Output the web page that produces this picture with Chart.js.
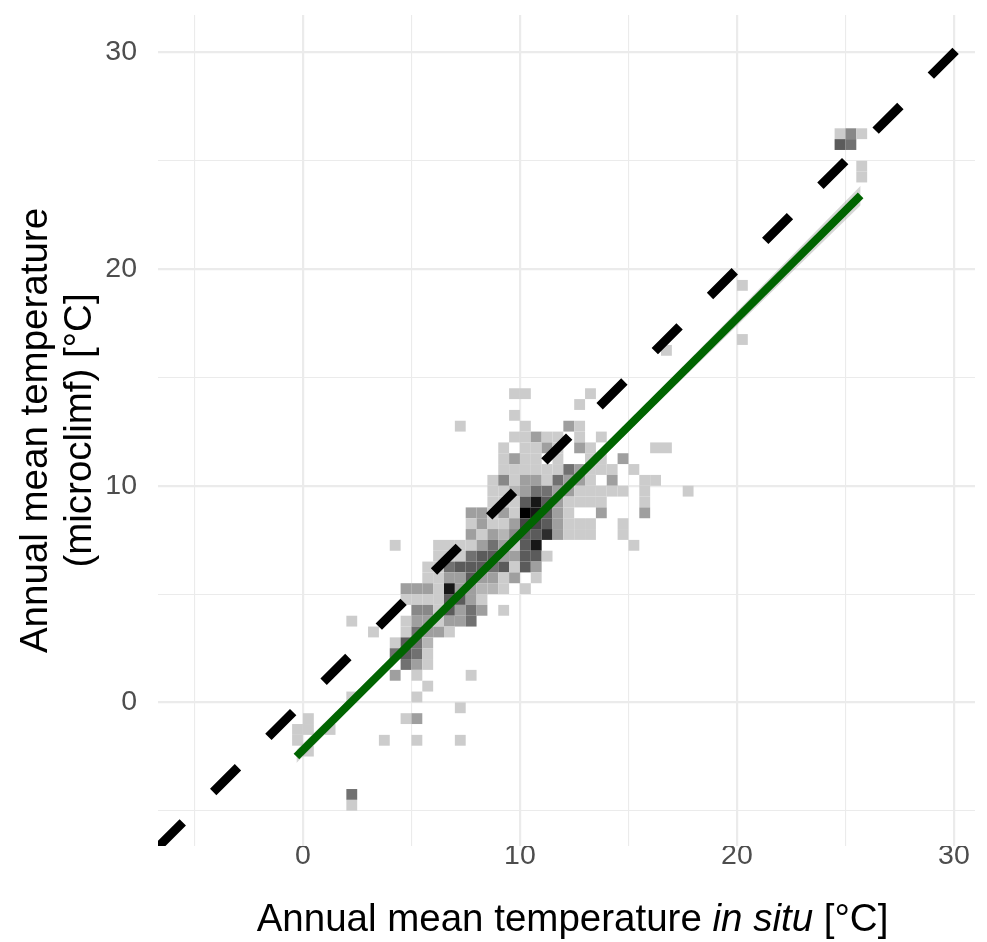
<!DOCTYPE html>
<html>
<head>
<meta charset="utf-8">
<script src="https://cdn.jsdelivr.net/npm/chart.js@4.4.0/dist/chart.umd.min.js"></script>
<style>
  html, body { margin: 0; padding: 0; background: #fff; }
  #wrap { position: relative; width: 987px; height: 942px; }
</style>
</head>
<body>
<div id="wrap"><canvas id="binChart"></canvas></div>
<script>
// panel limits and grid
const xLimits = [-6.68, 30.97];
const yLimits = [-6.63, 31.73];
const gridValues = [-5, 0, 5, 10, 15, 20, 25, 30];
const tickLabels = [0, 10, 20, 30];

const yTitleLines = ['Annual mean temperature', '(microclimf) [°C]'];
const xTitleParts = [['Annual mean temperature ', 'normal'], ['in situ', 'italic'], [' [°C]', 'normal']];

// 2d bins (lower-left corner of each cell) and counts
const binWidth = 0.5;
const binX = [
  24.5, 25, 25.5, 24.5, 25, 25.5, 25.5, 20, 20, 16.5,
  9.5, 10, 13, 12.5, 9.5,
  7, 10, 12, 12.5,
  9.5, 10, 10.5, 11, 11.5, 12.5, 13.5,
  9, 10, 10.5, 11, 11.5, 12.5, 13, 16, 16.5,
  9, 9.5, 10, 10.5, 11.5, 13, 13.5, 14.5,
  9, 9.5, 10, 10.5, 11, 11.5, 12, 12.5, 13, 13.5, 14, 15,
  8.5, 9, 9.5, 10, 10.5, 11, 11.5, 12, 12.5, 13, 14, 15.5, 16,
  8.5, 9, 9.5, 10, 10.5, 11, 11.5, 12, 12.5, 13, 13.5, 14, 14.5, 15.5, 17.5,
  8.5, 9, 9.5, 10, 10.5, 11, 11.5, 12, 12.5, 13, 13.5, 15.5,
  7.5, 8, 8.5, 9, 9.5, 10, 10.5, 11, 11.5, 12, 13.5, 15.5,
  7.5, 8, 8.5, 9, 9.5, 10, 10.5, 11, 11.5, 12, 12.5, 13, 14.5,
  7.5, 8, 8.5, 9, 9.5, 10, 10.5, 11, 11.5, 12, 12.5, 13, 14.5,
  4, 6, 6.5, 7, 7.5, 8, 8.5, 9, 9.5, 10, 10.5, 15,
  6, 6.5, 7, 7.5, 8, 8.5, 9, 9.5, 10, 10.5, 11,
  5.5, 6, 6.5, 7, 7.5, 8, 8.5, 9, 9.5, 10, 10.5,
  5.5, 6, 6.5, 7, 7.5, 8, 8.5, 9, 9.5, 10.5,
  4.5, 5, 5.5, 6, 6.5, 7, 7.5, 8, 8.5, 9, 10,
  4.5, 5, 5.5, 6, 6.5, 7, 7.5, 8,
  5, 5.5, 6, 6.5, 7, 7.5, 8, 9,
  2, 4.5, 5, 5.5, 6, 6.5, 7, 7.5,
  3, 4.5, 5, 5.5, 6, 6.5,
  4, 4.5, 5, 5.5,
  4, 4.5, 5, 5.5,
  4.5, 5, 5.5,
  4, 5, 7.5,
  5.5,
  2, 5,
  7,
  0, 4.5, 5,
  -0.5, 0, 1,
  -0.5, 3.5, 5, 7,
  0,
  2, 2
];
const binY = [
  26, 26, 26, 25.5, 25.5, 24.5, 24, 19, 16.5, 16,
  14, 14, 14, 13.5, 13,
  12.5, 12.5, 12.5, 12.5,
  12, 12, 12, 12, 12, 12, 12,
  11.5, 11.5, 11.5, 11.5, 11.5, 11.5, 11.5, 11.5, 11.5,
  11, 11, 11, 11, 11, 11, 11, 11,
  10.5, 10.5, 10.5, 10.5, 10.5, 10.5, 10.5, 10.5, 10.5, 10.5, 10.5, 10.5,
  10, 10, 10, 10, 10, 10, 10, 10, 10, 10, 10, 10, 10,
  9.5, 9.5, 9.5, 9.5, 9.5, 9.5, 9.5, 9.5, 9.5, 9.5, 9.5, 9.5, 9.5, 9.5, 9.5,
  9, 9, 9, 9, 9, 9, 9, 9, 9, 9, 9, 9,
  8.5, 8.5, 8.5, 8.5, 8.5, 8.5, 8.5, 8.5, 8.5, 8.5, 8.5, 8.5,
  8, 8, 8, 8, 8, 8, 8, 8, 8, 8, 8, 8, 8,
  7.5, 7.5, 7.5, 7.5, 7.5, 7.5, 7.5, 7.5, 7.5, 7.5, 7.5, 7.5, 7.5,
  7, 7, 7, 7, 7, 7, 7, 7, 7, 7, 7, 7,
  6.5, 6.5, 6.5, 6.5, 6.5, 6.5, 6.5, 6.5, 6.5, 6.5, 6.5,
  6, 6, 6, 6, 6, 6, 6, 6, 6, 6, 6,
  5.5, 5.5, 5.5, 5.5, 5.5, 5.5, 5.5, 5.5, 5.5, 5.5,
  5, 5, 5, 5, 5, 5, 5, 5, 5, 5, 5,
  4.5, 4.5, 4.5, 4.5, 4.5, 4.5, 4.5, 4.5,
  4, 4, 4, 4, 4, 4, 4, 4,
  3.5, 3.5, 3.5, 3.5, 3.5, 3.5, 3.5, 3.5,
  3, 3, 3, 3, 3, 3,
  2.5, 2.5, 2.5, 2.5,
  2, 2, 2, 2,
  1.5, 1.5, 1.5,
  1, 1, 1,
  0.5,
  0, 0,
  -0.5,
  -1, -1, -1,
  -1.5, -1.5, -1.5,
  -2, -2, -2, -2,
  -2.5,
  -4.5, -5
];
const binCount = [
  1, 4, 1, 6, 5, 1, 1, 1, 1, 1,
  1, 1, 1, 1, 1,
  1, 1, 3, 1,
  1, 1, 3, 1, 1, 1, 1,
  1, 1, 1, 3, 1, 3, 1, 1, 1,
  1, 3, 1, 1, 1, 1, 1, 3,
  1, 1, 1, 1, 1, 1, 5, 3, 1, 1, 1, 1,
  1, 4, 1, 3, 3, 1, 5, 3, 3, 1, 3, 1, 1,
  1, 1, 2, 3, 5, 5, 3, 3, 1, 1, 1, 1, 1, 1, 1,
  1, 1, 1, 6, 9, 6, 3, 1, 1, 1, 1, 1,
  3, 3, 1, 3, 1, 10, 9, 6, 3, 1, 3, 3,
  1, 3, 1, 1, 3, 7, 7, 6, 3, 1, 1, 1, 1,
  3, 1, 3, 2, 4, 6, 6, 8, 3, 1, 1, 1, 1,
  1, 1, 1, 1, 1, 3, 5, 3, 1, 6, 9, 1,
  1, 1, 1, 5, 6, 6, 3, 3, 6, 6, 1,
  1, 1, 5, 6, 6, 6, 5, 6, 1, 6, 3,
  1, 1, 3, 3, 6, 3, 3, 1, 3, 1,
  3, 3, 3, 1, 9, 3, 3, 2, 2, 1, 1,
  1, 1, 1, 1, 6, 6, 3, 1,
  4, 4, 1, 6, 3, 5, 3, 1,
  1, 1, 3, 3, 1, 3, 3, 5,
  1, 1, 5, 3, 3, 1,
  1, 6, 5, 2,
  5, 6, 5, 1,
  5, 3, 1,
  3, 1, 1,
  1,
  1, 1,
  1,
  1, 1, 3,
  1, 1, 1,
  1, 1, 1, 1,
  1,
  5, 1
];
const maxCount = 10;

// 1:1 reference line, fitted line and its confidence band
const identityX = [-6.68, 31];
const identityY = [-6.68, 31];
const fitX = [-0.3, 25.7];
const fitY = [-2.5, 23.4];
const bandX = [-0.3, 9, 25.7];
const bandLow = [-2.8, 6.65, 22.95];
const bandHigh = [-2.2, 6.85, 23.85];

function binColour(n) {
  const t = (n - 1) / (maxCount - 1);
  const g = Math.round(204 * (1 - t));
  return 'rgb(' + g + ',' + g + ',' + g + ')';
}

const binPlugin = {
  id: 'bins',
  beforeDatasetsDraw(chart) {
    const { ctx, chartArea, scales: { x, y } } = chart;
    ctx.save();
    ctx.beginPath();
    ctx.rect(chartArea.left, chartArea.top, chartArea.width, chartArea.height);
    ctx.clip();
    binX.forEach((bx, i) => {
      const left = x.getPixelForValue(bx);
      const right = x.getPixelForValue(bx + binWidth);
      const top = y.getPixelForValue(binY[i] + binWidth);
      const bottom = y.getPixelForValue(binY[i]);
      ctx.fillStyle = binColour(binCount[i]);
      ctx.fillRect(left, top, right - left, bottom - top);
    });
    ctx.restore();
  }
};

// x title has an italic part, so draw it piece by piece
const xTitlePlugin = {
  id: 'xTitle',
  afterDraw(chart) {
    const { ctx, chartArea } = chart;
    ctx.save();
    ctx.fillStyle = '#000';
    ctx.textBaseline = 'middle';
    const fontFor = style => style + ' 38.5px "Liberation Sans", Arial, sans-serif';
    let total = 0;
    xTitleParts.forEach(p => { ctx.font = fontFor(p[1]); total += ctx.measureText(p[0]).width; });
    let cx = (chartArea.left + chartArea.right) / 2 + 6 - total / 2;
    xTitleParts.forEach(p => {
      ctx.font = fontFor(p[1]);
      ctx.fillText(p[0], cx, 920);
      cx += ctx.measureText(p[0]).width;
    });
    ctx.restore();
  }
};

const tickFont = { family: '"Liberation Sans", Arial, sans-serif', size: 28.5, lineHeight: 0.7 };
const gridStyle = {
  color: '#ebebeb',
  lineWidth: c => (tickLabels.includes(c.tick && c.tick.value) ? 2.2 : 1.1),
  drawTicks: false
};

new Chart(document.getElementById('binChart'), {
  type: 'scatter',
  data: {
    datasets: [
      {
        type: 'line',
        label: '1:1',
        data: identityX.map((v, i) => ({ x: v, y: identityY[i] })),
        borderColor: '#000000',
        borderWidth: 9,
        borderDash: [35, 43],
        pointRadius: 0,
        clip: 0,
        order: 3
      },
      {
        type: 'line',
        label: 'band low',
        data: bandX.map((v, i) => ({ x: v, y: bandLow[i] })),
        borderWidth: 0,
        pointRadius: 0,
        fill: false,
        order: 2
      },
      {
        type: 'line',
        label: 'band high',
        data: bandX.map((v, i) => ({ x: v, y: bandHigh[i] })),
        borderWidth: 0,
        pointRadius: 0,
        backgroundColor: 'rgba(153,153,153,0.4)',
        fill: '-1',
        order: 2
      },
      {
        type: 'line',
        label: 'fit',
        data: fitX.map((v, i) => ({ x: v, y: fitY[i] })),
        borderColor: '#006400',
        borderWidth: 8,
        pointRadius: 0,
        clip: 0,
        order: 1
      }
    ]
  },
  options: {
    responsive: true,
    maintainAspectRatio: false,
    animation: false,
    layout: { padding: { top: 15, right: 12, bottom: 0, left: 0 } },
    plugins: { legend: { display: false }, tooltip: { enabled: false } },
    scales: {
      x: {
        type: 'linear',
        min: xLimits[0],
        max: xLimits[1],
        afterBuildTicks: s => { s.ticks = gridValues.map(v => ({ value: v })); },
        afterFit: s => { s.height = 96; s.paddingLeft = 0; s.paddingRight = 0; },
        grid: gridStyle,
        border: { display: false },
        ticks: {
          font: tickFont,
          color: '#4d4d4d',
          padding: 0,
          maxRotation: 0,
          autoSkip: false,
          callback: v => (tickLabels.includes(v) ? String(v) : '')
        }
      },
      y: {
        type: 'linear',
        min: yLimits[0],
        max: yLimits[1],
        afterBuildTicks: s => { s.ticks = gridValues.map(v => ({ value: v })); },
        afterFit: s => { s.width = 158; s.paddingTop = 0; s.paddingBottom = 0; },
        grid: gridStyle,
        border: { display: false },
        ticks: {
          font: tickFont,
          color: '#4d4d4d',
          padding: 21,
          autoSkip: false,
          callback: v => (tickLabels.includes(v) ? String(v) : '')
        },
        title: {
          display: true,
          text: yTitleLines,
          color: '#000000',
          font: { family: '"Liberation Sans", Arial, sans-serif', size: 38.5, lineHeight: 1.15 },
          padding: { top: 14, bottom: 0 }
        }
      }
    }
  },
  plugins: [binPlugin, xTitlePlugin]
});
</script>
</body>
</html>
